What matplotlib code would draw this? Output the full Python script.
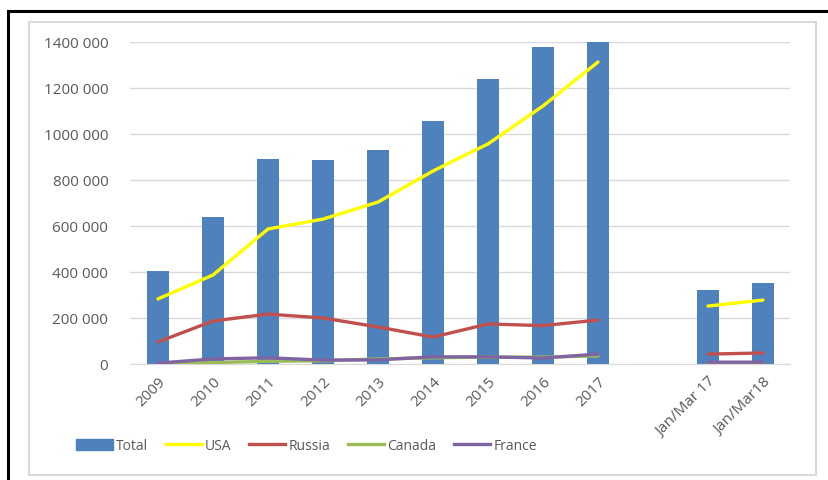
import numpy as np
import matplotlib
matplotlib.use("Agg")
import matplotlib.pyplot as plt
from matplotlib.ticker import FuncFormatter
from matplotlib.lines import Line2D
from matplotlib.patches import Rectangle, Patch

# Данні (NaN - порожня категорія між 2017 та Jan/Mar 17)
categories = ["2009", "2010", "2011", "2012", "2013", "2014", "2015", "2016", "2017",
              "", "Jan/Mar 17", "Jan/Mar18"]
total = [404000, 639000, 893000, 887000, 930000, 1057000, 1237000, 1378000, 1400000,
         np.nan, 322000, 352000]
usa = [283000, 387000, 587000, 630000, 704000, 839000, 957000, 1122000, 1313000,
       np.nan, 252000, 278000]
russia = [96000, 187000, 217000, 200000, 161000, 117000, 174000, 167000, 191000,
          np.nan, 43000, 48000]
canada = [1000, 6000, 12000, 14000, 22000, 27000, 30000, 30000, 35000,
          np.nan, 4000, 5000]
france = [4000, 22000, 27000, 17000, 18000, 31000, 31000, 26000, 43000,
          np.nan, 8000, 8000]

plt.rcParams['font.family'] = ['Open Sans', 'DejaVu Sans']
text_color = '#595959'

fig = plt.figure(figsize=(8.29, 4.81), dpi=100)
ax = fig.add_axes([130.5 / 829, 1 - 365 / 481, 660 / 829, 322 / 481])

x = np.arange(len(categories))
ax.bar(x, total, width=0.4, color='#4F81BD', zorder=2)
lw = 2.4
ax.plot(x, usa, color='#FFFF00', lw=lw, zorder=3, solid_capstyle='round')
ax.plot(x, russia, color='#C0504D', lw=lw, zorder=3, solid_capstyle='round')
ax.plot(x, canada, color='#9BBB59', lw=lw, zorder=3, solid_capstyle='round')
ax.plot(x, france, color='#8064A2', lw=lw, zorder=4, solid_capstyle='round')

ax.set_xlim(-0.5, len(categories) - 0.5)
ax.set_ylim(0, 1400000)
ax.set_yticks(np.arange(0, 1400001, 200000))
ax.yaxis.set_major_formatter(FuncFormatter(lambda v, _: '0' if v == 0 else f'{int(v) // 1000} 000'))
ax.grid(axis='y', color='#D9D9D9', lw=1, zorder=0)
ax.set_axisbelow(True)
for s in ['top', 'right', 'left']:
    ax.spines[s].set_visible(False)
ax.spines['bottom'].set_color('#D9D9D9')
ax.tick_params(length=0, colors=text_color, labelsize=11)
ax.tick_params(axis='y', pad=16)
ax.set_xticks(x)
ax.set_xticklabels(categories, rotation=45, ha='right', rotation_mode='anchor')
ax.tick_params(axis='x', pad=7)

handles = [Patch(color='#4F81BD'),
           Line2D([], [], color='#FFFF00', lw=lw),
           Line2D([], [], color='#C0504D', lw=lw),
           Line2D([], [], color='#9BBB59', lw=lw),
           Line2D([], [], color='#8064A2', lw=lw)]
labels = ['Total', 'USA', 'Russia', 'Canada', 'France']
leg = fig.legend(handles, labels, loc='center left', bbox_to_anchor=(64 / 829, 1 - 447 / 481),
                 ncol=5, frameon=False, fontsize=10, handlelength=2.6, handletextpad=0.25,
                 columnspacing=1.25, labelcolor=text_color, handleheight=0.8)

# Рамки навколо діаграми
fig.add_artist(Rectangle((29 / 829, 1 - 476 / 481), (816 - 29) / 829, (476 - 23) / 481,
                         transform=fig.transFigure, fill=False, ec='#D9D9D9', lw=1.5))
fig.add_artist(Line2D([8 / 829, 1], [1 - 12 / 481, 1 - 12 / 481], transform=fig.transFigure,
                      color='black', lw=2.2))
fig.add_artist(Line2D([8 / 829, 8 / 829], [0, 1 - 12 / 481], transform=fig.transFigure,
                      color='black', lw=2.2))

fig.savefig('out.png', dpi=100)
